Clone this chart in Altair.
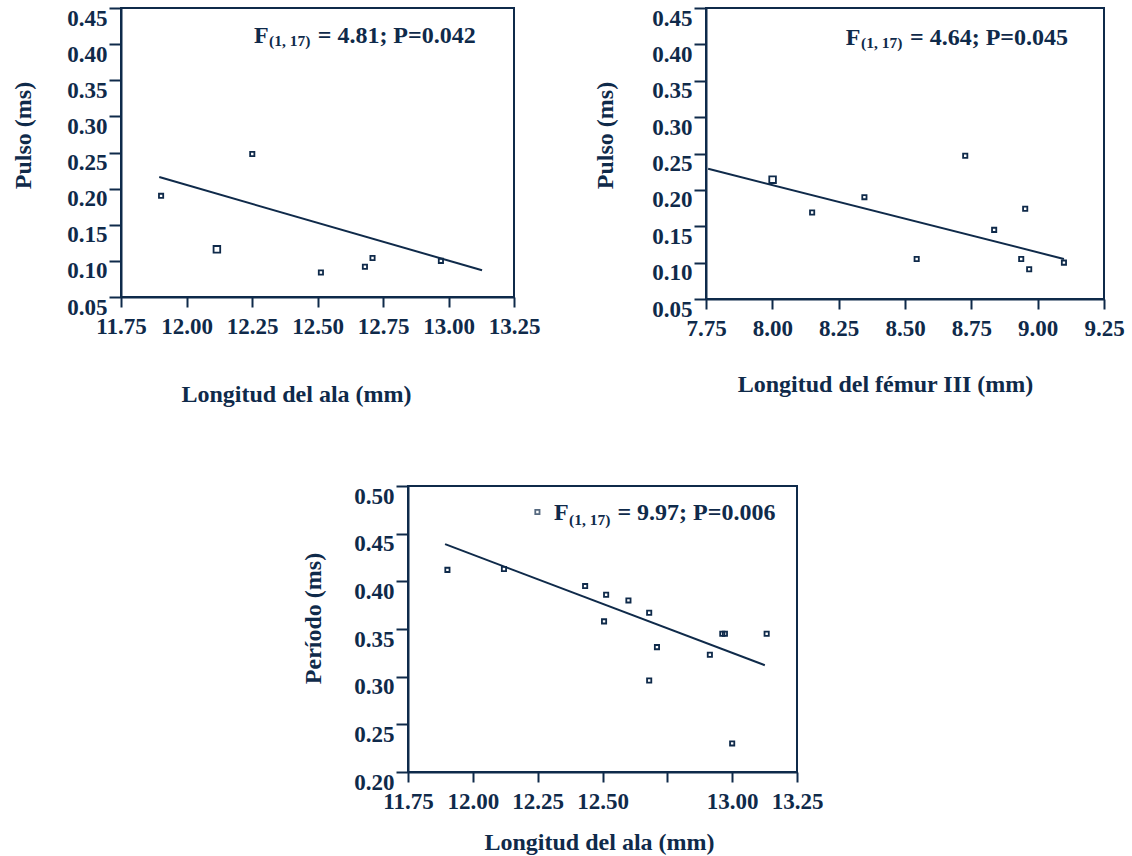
import altair as alt
import pandas as pd

NAVY = "#0f2a4a"
FONT = "Liberation Serif"

# ---------------- data ----------------
# Panel 1: Pulso vs Longitud del ala
p1_x = [11.903, 12.116, 12.251, 12.513, 12.681, 12.710, 12.971]
p1_y = [0.190, 0.116, 0.248, 0.084, 0.092, 0.104, 0.100]
p1_n = [1, 2, 1, 1, 1, 1, 1]
p1_line_x = [11.896, 13.128]
p1_line_y = [0.216, 0.087]

# Panel 2: Pulso vs Longitud del fémur III
p2_x = [8.001, 8.150, 8.347, 8.544, 8.727, 8.836, 8.938, 8.953, 8.968, 9.099]
p2_y = [0.214, 0.169, 0.190, 0.105, 0.247, 0.145, 0.105, 0.174, 0.091, 0.100]
p2_n = [2, 1, 1, 1, 1, 1, 1, 1, 1, 1]
p2_line_x = [7.758, 9.099]
p2_line_y = [0.229, 0.105]

# Panel 3: Período vs Longitud del ala
p3_x = [11.902, 12.120, 12.433, 12.506, 12.514, 12.600, 12.680, 12.680, 12.710,
        12.914, 12.962, 12.972, 13.000, 13.133]
p3_y = [0.412, 0.413, 0.395, 0.358, 0.386, 0.380, 0.367, 0.296, 0.331,
        0.323, 0.345, 0.345, 0.230, 0.345]
p3_n = [1] * len(p3_x)
p3_line_x = [11.893, 13.126]
p3_line_y = [0.439, 0.312]

# tick values
ala_ticks = [11.75, 12.00, 12.25, 12.50, 12.75, 13.00, 13.25]
femur_ticks = [7.75, 8.00, 8.25, 8.50, 8.75, 9.00, 9.25]
pulso_ticks = [0.05, 0.10, 0.15, 0.20, 0.25, 0.30, 0.35, 0.40, 0.45]
periodo_ticks = [0.20, 0.25, 0.30, 0.35, 0.40, 0.45, 0.50]

# texts
t_ala = "Longitud del ala (mm)"
t_femur = "Longitud del fémur III (mm)"
t_pulso = "Pulso (ms)"
t_periodo = "Período (ms)"
stat_F = "F"
stat_sub = "(1, 17)"
stat1 = "= 4.81; P=0.042"
stat2 = "= 4.64; P=0.045"
stat3 = "= 9.97; P=0.006"


def text_mark(label, x, y, size):
    return alt.Chart(pd.DataFrame({"label": [label]})).mark_text(
        align="left", baseline="alphabetic", font=FONT, fontWeight="bold",
        fontSize=size, color=NAVY
    ).encode(x=alt.value(x), y=alt.value(y), text=alt.Text("label:N"))


def panel(xs, ys, ns, lx, ly, xdom, ydom, xticks, yticks, w, h,
          xtitle, ytitle, xt_pos, yt_pos, stat, stat_pos, label_expr=None,
          marker=None):
    pts = pd.DataFrame({"x": xs, "y": ys, "n": ns})
    line = pd.DataFrame({"x": lx, "y": ly})
    xkw = dict(values=xticks, format=".2f", tickSize=10, labelPadding=8,
               labelFlush=False, labelOverlap=False, grid=False,
               title=xtitle, titleX=xt_pos[0], titleY=xt_pos[1],
               titleBaseline="middle", titleAlign="center")
    if label_expr:
        xkw["labelExpr"] = label_expr
    xenc = alt.X("x:Q", scale=alt.Scale(domain=xdom, nice=False, zero=False),
                 axis=alt.Axis(**xkw))
    yenc = alt.Y("y:Q", scale=alt.Scale(domain=ydom, nice=False, zero=False),
                 axis=alt.Axis(values=yticks, format=".2f", tickSize=12,
                               labelPadding=2, labelBaseline="top",
                               labelOffset=-1, labelOverlap=False,
                               labelSeparation=0, grid=False,
                               title=ytitle, titleX=yt_pos[0], titleY=yt_pos[1],
                               titleBaseline="middle", titleAlign="center",
                               titleAngle=270))
    points = alt.Chart(pts).mark_point(
        shape="square", filled=False, strokeWidth=1.8, color=NAVY, opacity=1
    ).encode(x=xenc, y=yenc,
             size=alt.Size("n:Q", scale=alt.Scale(domain=[1, 2], range=[18, 44]),
                           legend=None))
    reg = alt.Chart(line).mark_line(color=NAVY, strokeWidth=2).encode(
        x=xenc, y=yenc)
    fx, fy, sx, sy, rx = stat_pos
    layers = [points, reg,
              text_mark(stat_F, fx, fy, 24),
              text_mark(stat_sub, sx, sy, 15.5),
              text_mark(stat, rx, fy, 24)]
    if marker:
        mk = alt.Chart(pd.DataFrame({"m": [1]})).mark_point(
            shape="square", filled=False, strokeWidth=1.8, color=NAVY, size=18
        ).encode(x=alt.value(marker[0]), y=alt.value(marker[1]))
        layers.append(mk)
    return alt.layer(*layers).properties(width=w, height=h)


c1 = panel(p1_x, p1_y, p1_n, p1_line_x, p1_line_y, [11.75, 13.25], [0.05, 0.45],
           ala_ticks, pulso_ticks, 393, 289, t_ala, t_pulso,
           (175, 97), (-98, 127), stat1, (133, 35, 148, 38, 196.7))
c2 = panel(p2_x, p2_y, p2_n, p2_line_x, p2_line_y, [7.75, 9.25], [0.05, 0.45],
           femur_ticks, pulso_ticks, 398, 291, t_femur, t_pulso,
           (179, 85), (-101, 127), stat2, (139.8, 37, 155, 40, 204))
c3 = panel(p3_x, p3_y, p3_n, p3_line_x, p3_line_y, [11.75, 13.25], [0.20, 0.50],
           ala_ticks, periodo_ticks, 389, 286, t_ala, t_periodo,
           (191, 70), (-95, 132), stat3, (146, 34.3, 161, 39.3, 209.4),
           label_expr="datum.value == 12.75 ? '' : format(datum.value, '.2f')",
           marker=(129.4, 26))

spacer = alt.Chart(pd.DataFrame({"a": [0]})).mark_point(opacity=0).encode(
    x=alt.X("a:Q", axis=None), y=alt.Y("a:Q", axis=None)
).properties(width=287, height=286, view=alt.ViewBackground(strokeOpacity=0))

row1 = alt.HConcatChart(hconcat=[c1, c2], spacing=192, bounds="flush")
row2 = alt.HConcatChart(hconcat=[spacer, c3], spacing=0, bounds="flush")

chart = alt.VConcatChart(vconcat=[row1, row2], spacing=478, bounds="flush").properties(
    padding={"left": 10, "top": 6, "right": 5, "bottom": 5},
    background="white",
).configure_view(
    stroke=NAVY, strokeWidth=2
).configure_axis(
    domainColor=NAVY, domainWidth=2, tickColor=NAVY, tickWidth=2,
    labelFont=FONT, labelFontSize=23, labelFontWeight="bold", labelColor=NAVY,
    titleFont=FONT, titleFontSize=24, titleFontWeight="bold", titleColor=NAVY,
    labelOverlap=False,
)

chart.save("out.html", embed_options={"renderer": "svg", "actions": False})
